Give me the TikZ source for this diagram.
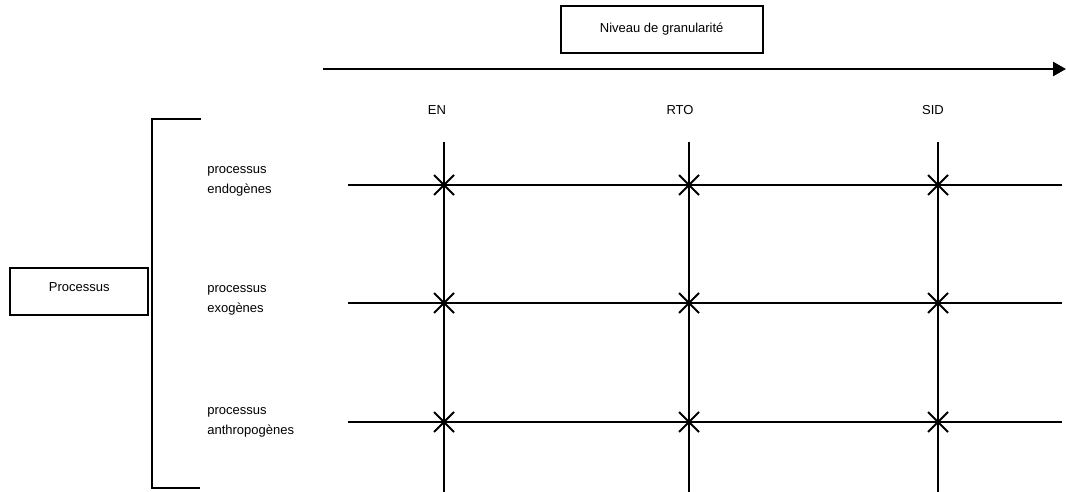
\documentclass[tikz,border=0pt]{standalone}
\usepackage{fontspec}
\setmainfont{Liberation Sans}
\usetikzlibrary{arrows.meta}
\begin{document}
\begin{tikzpicture}[x=1pt,y=-1pt,line width=2pt,
    lbl/.style={font=\fontsize{13}{20}\selectfont},
    boite/.style={draw,rectangle,inner sep=0pt,font=\fontsize{13}{15}\selectfont}]
    \useasboundingbox (0,0) rectangle (1066,492);

    % Niveau de granularite
    \node[boite,minimum width=202pt,minimum height=47pt] (niveau) at (661.7,29.2) {Niveau de granularit\'e};
    \coordinate (axeG) at (323,69);
    \coordinate (axeD) at (1066,69);
    \draw[line width=2.5pt,-{Triangle[length=13pt,width=14pt]}] (axeG) -- (axeD);
    \node[lbl] (en) at (437,110) {EN};
    \node[lbl] (rto) at (680,110) {RTO};
    \node[lbl] (sid) at (933,110) {SID};

    % Processus
    \node[boite,minimum width=138pt,minimum height=47pt] (proc) at (79.3,291.5) {};
    \node[lbl] at (79.3,287.5) {Processus};
    \coordinate (accH) at (201,119);
    \coordinate (accB) at (200,488);
    \draw (accH) -- (152,119) -- (152,488) -- (accB);

    \node[lbl,anchor=west,align=left] (endo) at (203,181.5) {processus\\endog\`enes};
    \node[lbl,anchor=west,align=left] (exo) at (203,300) {processus\\exog\`enes};
    \node[lbl,anchor=west,align=left] (anthro) at (203,422) {processus\\anthropog\`enes};

    % grille
    \foreach \y/\n in {185/a,303/b,422/c} {
        \coordinate (g\n) at (348,\y);
        \coordinate (d\n) at (1062,\y);
        \draw (g\n) -- (d\n);
    }
    \foreach \x/\n in {444/a,689/b,938/c} {
        \coordinate (h\n) at (\x,142);
        \coordinate (b\n) at (\x,492);
        \draw (h\n) -- (b\n);
        \foreach \y in {185,303,422}
            \draw (\x-10,\y-10) -- (\x+10,\y+10) (\x-10,\y+10) -- (\x+10,\y-10);
    }
\end{tikzpicture}
\end{document}
